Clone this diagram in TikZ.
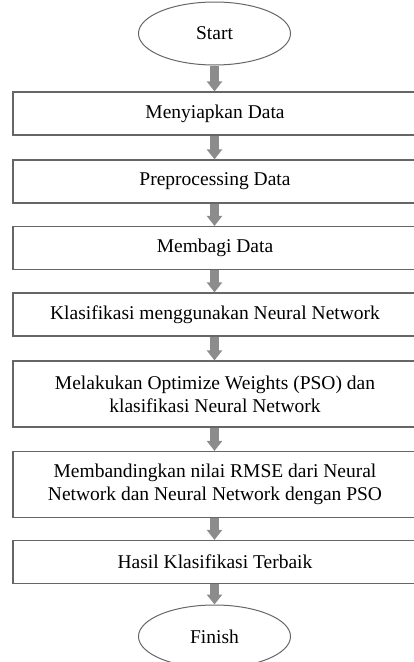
\documentclass[tikz,border=0pt]{standalone}
\usepackage{fontspec}
\setmainfont{Liberation Serif}
\usetikzlibrary{
    arrows.meta,
    shapes.geometric
}
\tikzset{
    terminal/.style={ellipse, draw=black!60, line width=1pt, inner sep=0pt,
        minimum width=152pt, minimum height=63pt},
    stepbox/.style={rectangle, draw=black!60, line width=1.2pt, align=center,
        minimum width=404pt, minimum height=43pt},
    twoline/.style={stepbox, minimum height=66pt},
    flow/.style={-{Triangle[width=15pt,length=10pt]}, line width=9pt, draw=black!45}
}

\begin{document}
\begin{tikzpicture}[x=1pt, y=-1pt, font=\fontsize{19.5}{23}\selectfont]
        \useasboundingbox (0,0) rectangle (413,662);

        \draw (214.5,33.5) node[terminal](start){Start};
        \draw (215,113.5) node[stepbox](data){Menyiapkan Data};
        \draw (215,181.5) node[stepbox](prep){Preprocessing Data};
        \draw (215,248) node[stepbox](bagi){Membagi Data};
        \draw (215,314.5) node[stepbox](nn){Klasifikasi menggunakan Neural Network};
        \draw (215,394) node[twoline](pso){Melakukan Optimize Weights (PSO) dan\\klasifikasi Neural Network};
        \draw (215,484.5) node[twoline](rmse){Membandingkan nilai RMSE dari Neural\\Network dan Neural Network dengan PSO};
        \draw (215,562) node[stepbox](hasil){Hasil Klasifikasi Terbaik};
        \draw (214.5,636.5) node[terminal](finish){Finish};

        \draw[flow] (start) -- (start |- data.north);
        \draw[flow] (start |- data.south) -- (start |- prep.north);
        \draw[flow] (start |- prep.south) -- (start |- bagi.north);
        \draw[flow] (start |- bagi.south) -- (start |- nn.north);
        \draw[flow] (start |- nn.south) -- (start |- pso.north);
        \draw[flow] (start |- pso.south) -- (start |- rmse.north);
        \draw[flow] (start |- rmse.south) -- (start |- hasil.north);
        \draw[flow] (start |- hasil.south) -- (finish);
    \end{tikzpicture}
\end{document}
